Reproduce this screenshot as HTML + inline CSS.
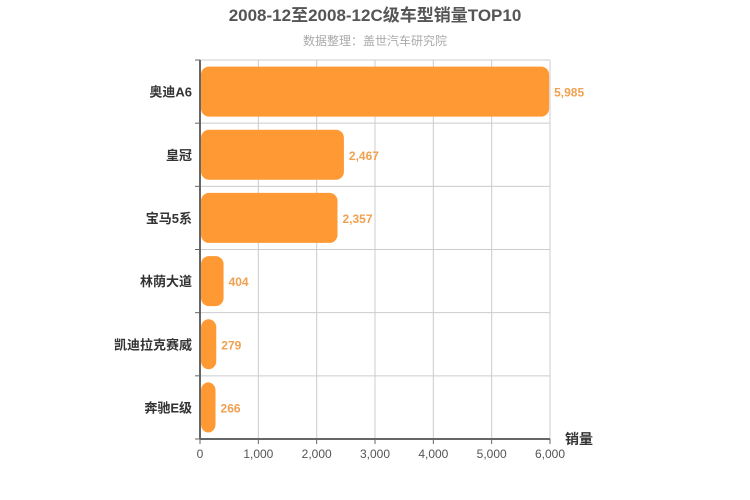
<!DOCTYPE html>
<html><head><meta charset="utf-8"><style>
html,body{margin:0;padding:0;background:#fff;}
svg{display:block;font-family:"Liberation Sans","Noto Sans CJK SC",sans-serif;}
</style></head><body>
<svg id="chart" width="750" height="500">
<text x="375" y="21" text-anchor="middle" font-size="17" font-weight="bold" fill="#555">2008-12至2008-12C级车型销量TOP10</text>
<text x="375" y="45" text-anchor="middle" font-size="12" fill="#aaa">数据整理：盖世汽车研究院</text>
<g id="grid"></g><g id="bars"></g><g id="axes"></g>
<text x="565" y="444" font-size="14" font-weight="bold" fill="#333">销量</text>
</svg>
<script>
const categories=["奥迪A6","皇冠","宝马5系","林荫大道","凯迪拉克赛威","奔驰E级"];
const values=[5985,2467,2357,404,279,266];
const ticks=[0,1000,2000,3000,4000,5000,6000];
const tickLabels=["0","1,000","2,000","3,000","4,000","5,000","6,000"];
const NS="http://www.w3.org/2000/svg";
const L=200,R=550,T=60,B=439,max=6000;
const x=v=>L+(v/max)*(R-L);
const band=(B-T)/categories.length;
const y=i=>T+i*band;
function mk(tag,attrs,parent,txt){const e=document.createElementNS(NS,tag);for(const k in attrs)e.setAttribute(k,attrs[k]);if(txt!==undefined)e.textContent=txt;document.getElementById(parent).appendChild(e);return e;}
ticks.forEach((t,i)=>{
 const g=mk("line",{x1:x(t),x2:x(t),y1:T,y2:B,stroke:"#ccc","stroke-width":1},"grid");
 
 
 const tk=mk("line",{x1:x(t),x2:x(t),y1:B,y2:B+5,stroke:"#666"},"axes");
 
 
 const tl=mk("text",{x:x(t),y:B+19,"text-anchor":"middle","font-size":12,fill:"#555"},"axes",tickLabels[i]);
 
 
});
for(let i=0;i<=categories.length;i++){
 const gl=mk("line",{x1:L,x2:R,y1:y(i),y2:y(i),stroke:"#ccc"},"grid");
 
 
 const tk=mk("line",{x1:L-5,x2:L,y1:y(i),y2:y(i),stroke:"#666"},"axes");
 
 
}
const xa=mk("line",{x1:L,x2:R,y1:B,y2:B,stroke:"#666","stroke-width":2},"axes");


const ya=mk("line",{x1:L,x2:L,y1:T,y2:B,stroke:"#666","stroke-width":2},"axes");


categories.forEach((c,i)=>{
 const cy=y(i)+band/2, h=50;
 const r=mk("rect",{x:L+1,y:cy-h/2,width:Math.max(0,x(values[i])-L-1),height:h,rx:8,ry:8,fill:"#ff9933"},"bars");
 
 
 const v=mk("text",{x:x(values[i])+5,y:cy+5,"font-size":12,"font-weight":"bold",fill:"#f0a050"},"bars",values[i].toLocaleString("en-US"));
 
 
 const lb=mk("text",{x:L-8,y:cy+5,"text-anchor":"end","font-size":13,"font-weight":"bold",fill:"#333"},"axes",c);
 
 
});
</script>
</body></html>
